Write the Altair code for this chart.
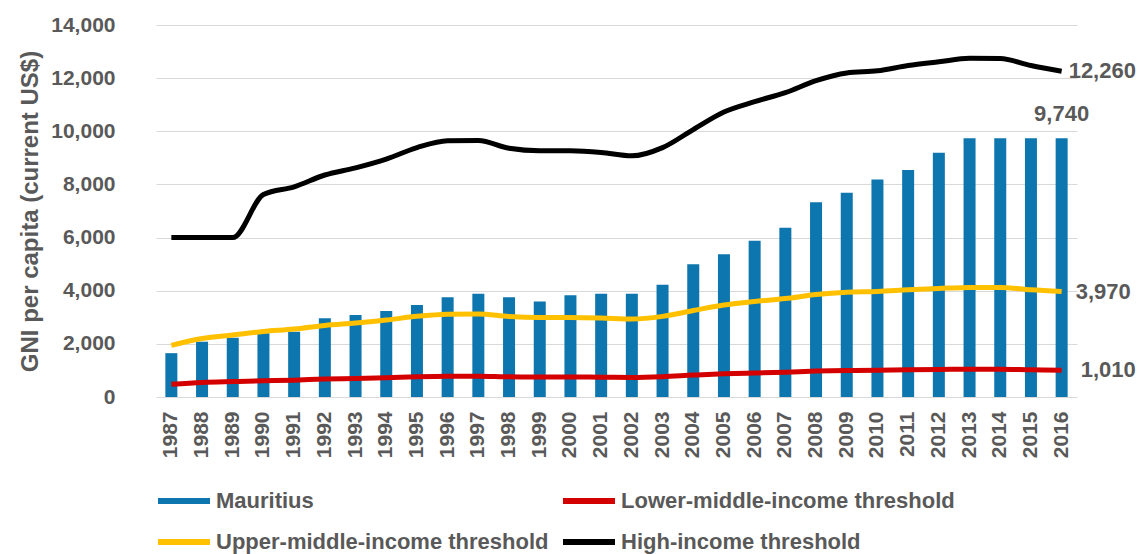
import altair as alt
import pandas as pd

years = [str(y) for y in range(1987, 2017)]
mauritius = [1650, 2080, 2230, 2400, 2460, 2960, 3090, 3240, 3460, 3750,
             3890, 3750, 3590, 3830, 3890, 3890, 4220, 5000, 5370, 5880,
             6370, 7330, 7690, 8190, 8540, 9190, 9740, 9740, 9740, 9740]
lower_middle = [480, 545, 580, 610, 635, 675, 695, 725, 765, 785,
                785, 760, 755, 755, 745, 735, 765, 825, 875, 905,
                935, 975, 995, 1005, 1025, 1035, 1045, 1045, 1025, 1010]
upper_middle = [1940, 2200, 2335, 2465, 2555, 2695, 2785, 2895, 3035, 3115,
                3125, 3030, 2995, 2995, 2975, 2935, 3035, 3255, 3465, 3595,
                3705, 3855, 3945, 3975, 4035, 4085, 4125, 4125, 4035, 3970]
high_income = [6000, 6000, 6000, 7620, 7910, 8355, 8625, 8955, 9385, 9645,
               9655, 9360, 9265, 9265, 9205, 9075, 9385, 10065, 10725, 11115,
               11455, 11905, 12195, 12275, 12475, 12615, 12745, 12735, 12475, 12260]

series_names = ["Mauritius", "Lower-middle-income threshold",
                "Upper-middle-income threshold", "High-income threshold"]
series_colors = ["#0E76AE", "#D40000", "#FFC000", "#000000"]
y_ticks = [0, 2000, 4000, 6000, 8000, 10000, 12000, 14000]

bars_df = pd.DataFrame({"year": years, "value": mauritius, "series": "Mauritius"})
lines_df = pd.concat([
    pd.DataFrame({"year": years, "value": lower_middle, "series": series_names[1]}),
    pd.DataFrame({"year": years, "value": upper_middle, "series": series_names[2]}),
    pd.DataFrame({"year": years, "value": high_income, "series": series_names[3]}),
], ignore_index=True)

FONT = "Liberation Sans"
GRAY = "#595959"

x_scale = alt.Scale(paddingInner=0, paddingOuter=0)
y_scale = alt.Scale(domain=[0, 14000], nice=False)

x_axis = alt.Axis(title=None, labelAngle=270, labelAlign="right",
                  labelBaseline="middle", labelPadding=14, ticks=False,
                  domain=False, grid=False, labelFont=FONT,
                  labelFontSize=21, labelFontWeight="bold",
                  labelColor=GRAY)
y_axis = alt.Axis(values=y_ticks, format=",d",
                  title="GNI per capita (current US$)",
                  titleFont=FONT, titleFontSize=24, titleFontWeight="bold",
                  titleColor=GRAY, titlePadding=8,
                  labelFont=FONT, labelFontSize=21, labelFontWeight="bold",
                  labelColor=GRAY, labelPadding=41, ticks=False,
                  domain=False, grid=True, gridColor="#D9D9D9",
                  gridWidth=1)

x_enc = alt.X("year:N", sort=years, scale=x_scale, axis=x_axis)
y_enc = alt.Y("value:Q", scale=y_scale, axis=y_axis)
color_scale = alt.Scale(domain=series_names, range=series_colors)

bars = alt.Chart(bars_df).mark_bar(size=12).encode(
    x=x_enc, y=y_enc,
    color=alt.Color("series:N", scale=color_scale, legend=None),
)

lines = alt.Chart(lines_df).mark_line(strokeWidth=5, interpolate="monotone").encode(
    x=x_enc, y=y_enc,
    color=alt.Color("series:N", scale=color_scale,
                    legend=alt.Legend(title=None, orient="none", legendX=-1,
                                      legendY=447, columns=2, direction="horizontal",
                                      columnPadding=2, rowPadding=-25,
                                      symbolType="stroke",
                                      symbolStrokeWidth=6, symbolSize=2704,
                                      labelOffset=3, labelFont=FONT,
                                      labelFontSize=22, labelFontWeight="bold",
                                      labelColor=GRAY, labelLimit=600)),
)

last_year = years[-1]

def end_label(df, series, **kw):
    return alt.Chart(df).transform_filter(
        (alt.datum.series == series) & (alt.datum.year == last_year)
    ).mark_text(font=FONT, fontSize=22, fontWeight="bold", color=GRAY, **kw).encode(
        x=x_enc, y=y_enc,
        text=alt.Text("value:Q", format=","),
    )

lab_high = end_label(lines_df, series_names[3], align="left", baseline="middle", dx=7)
lab_upper = end_label(lines_df, series_names[2], align="left", baseline="middle", dx=14)
lab_lower = end_label(lines_df, series_names[1], align="left", baseline="middle", dx=19)
lab_maur = end_label(bars_df, "Mauritius", align="center", baseline="bottom", dy=-12)

chart = alt.layer(bars, lines, lab_high, lab_upper, lab_lower, lab_maur).resolve_legend(
    color="independent"
).properties(
    width=921, height=372,
    padding={"left": 156, "top": 25, "right": 69, "bottom": 157},
    autosize="none",
    background="white",
).configure_view(stroke=None)

chart.save("out.html", embed_options={"renderer": "svg", "actions": False})
